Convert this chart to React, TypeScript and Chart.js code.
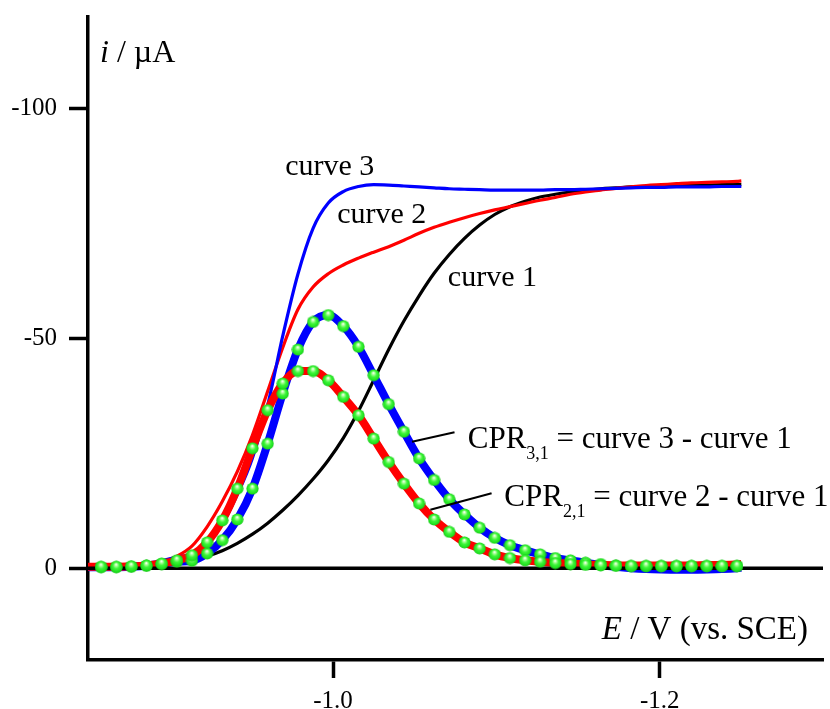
import { useEffect, useRef } from "react";
import { Chart, registerables } from "chart.js";

Chart.register(...registerables);

const SERIF = "'Liberation Serif', 'Times New Roman', serif";

// Potentials (V vs. SCE) of the sampled points
const E_DOT = [
  -0.858, -0.8673, -0.8765, -0.8858, -0.8951, -0.9044, -0.9136, -0.9229, -0.9322, -0.9414,
  -0.9507, -0.96, -0.9692, -0.9785, -0.9878, -0.9971, -1.0063, -1.0156, -1.0249, -1.0341,
  -1.0434, -1.0527, -1.0619, -1.0712, -1.0805, -1.0898, -1.099, -1.1083, -1.1176, -1.1268,
  -1.1361, -1.1454, -1.1546, -1.1639, -1.1732, -1.1825, -1.1917, -1.201, -1.2103, -1.2195,
  -1.2288, -1.2381, -1.2473,
];
const E_LINE = [-0.85, ...E_DOT, -1.25];

// Voltammetric currents (µA) on E_LINE
const CURVE1 = [
  -0.3, -0.3, -0.4, -0.5, -0.6, -0.8, -1.1, -1.7, -2.6, -3.8, -5.4,
  -7.4, -9.8, -12.6, -15.8, -19.4, -23.5, -28.3, -34.2, -40.9, -47.6,
  -53.8, -59.3, -64.2, -68.3, -71.8, -74.7, -77.0, -78.7, -79.9, -80.8,
  -81.4, -81.9, -82.3, -82.6, -82.8, -83.0, -83.1, -83.2, -83.3, -83.4,
  -83.4, -83.5, -83.5, -83.5,
];
const CURVE2 = [
  -0.3, -0.3, -0.4, -0.5, -0.8, -1.3, -2.6, -4.8, -9.0, -14.5, -21.0,
  -29.0, -38.5, -48.0, -56.3, -61.2, -64.1, -66.0, -67.5, -68.8, -70.0,
  -71.4, -72.9, -74.2, -75.3, -76.3, -77.2, -78.0, -78.7, -79.4, -80.1,
  -80.7, -81.4, -81.9, -82.3, -82.7, -83.0, -83.3, -83.5, -83.7, -83.9,
  -84.0, -84.1, -84.2, -84.3,
];
const CURVE3 = [
  -0.4, -0.5, -0.6, -0.8, -1.1, -1.6, -2.4, -3.1, -5.5, -9.6, -16.0,
  -24.0, -35.5, -50.5, -64.0, -74.0, -79.5, -82.0, -83.1, -83.5, -83.4,
  -83.2, -83.0, -82.8, -82.6, -82.5, -82.4, -82.3, -82.3, -82.3, -82.3,
  -82.4, -82.4, -82.5, -82.6, -82.7, -82.8, -82.9, -82.9, -83.0, -83.0,
  -83.0, -83.1, -83.1, -83.1,
];

// Difference curves (µA) on E_LINE
const CPR31_LINE = [
  -0.2, -0.2, -0.2, -0.3, -0.5, -0.9, -1.4, -1.6, -3.2, -6.1, -10.6,
  -17.3, -27.1, -38.0, -47.6, -53.6, -55.1, -52.7, -48.2, -42.0, -35.7,
  -29.7, -23.9, -19.2, -15.0, -11.7, -8.8, -6.6, -5.0, -3.9, -3.0,
  -2.2, -1.7, -1.2, -0.7, -0.3, 0.0, 0.2, 0.3, 0.35, 0.35,
  0.3, 0.2, 0.0, -0.1,
];
const CPR21_LINE = [
  -0.3, -0.3, -0.3, -0.4, -0.6, -1.0, -1.7, -2.8, -5.6, -10.4, -17.3,
  -26.1, -34.4, -40.2, -42.9, -42.9, -40.9, -37.3, -33.3, -28.2, -23.1,
  -18.4, -14.1, -10.6, -7.9, -5.6, -4.3, -3.0, -2.2, -1.7, -1.4,
  -1.1, -1.0, -0.8, -0.7, -0.6, -0.6, -0.6, -0.6, -0.6, -0.6,
  -0.7, -0.7, -0.8, -0.9,
];

// Fitted difference values (µA) on E_DOT
const CPR31_FIT = [
  -0.2, -0.2, -0.3, -0.5, -0.9, -1.4, -1.6, -3.2, -6.1, -10.6,
  -17.3, -27.1, -38.0, -47.6, -53.6, -55.1, -52.7, -48.2, -42.0, -35.7,
  -29.7, -23.9, -19.2, -15.0, -11.7, -8.8, -6.6, -5.0, -3.9, -3.0,
  -2.2, -1.7, -1.2, -0.9, -0.6, -0.4, -0.4, -0.4, -0.4, -0.4,
  -0.4, -0.4, -0.4,
];
const CPR21_FIT = [
  -0.3, -0.3, -0.4, -0.6, -1.0, -1.7, -2.8, -5.6, -10.4, -17.3,
  -26.1, -34.4, -40.2, -42.9, -42.9, -40.9, -37.3, -33.3, -28.2, -23.1,
  -18.4, -14.1, -10.6, -7.9, -5.6, -4.3, -3.0, -2.2, -1.7, -1.4,
  -1.1, -0.9, -0.7, -0.6, -0.5, -0.5, -0.5, -0.5, -0.5, -0.5,
  -0.5, -0.5, -0.5,
];

const X_TICKS = [-1.0, -1.2];
const Y_TICKS = [-100, -50, 0];
const E_MIN = -1.3;
const E_MAX = -0.85;
const I_MIN = -120;
const I_MAX = 20;

// Curve names, anchored at (E, i)
const CURVE_LABELS = [
  { text: "curve 3", E: -0.9707, i: -85.6 },
  { text: "curve 2", E: -1.0026, i: -75.1 },
  { text: "curve 1", E: -1.0703, i: -61.4 },
];
const CPR_LABELS = [
  { sub: "3,1", rest: " = curve 3 - curve 1", E: -1.0825, i: -26.1, from: [-1.0484, -27.5], to: [-1.0744, -29.6] },
  { sub: "2,1", rest: " = curve 2 - curve 1", E: -1.1049, i: -13.5, from: [-1.0596, -12.7], to: [-1.0971, -16.3] },
];

const pts = (xs: number[], ys: number[]) => xs.map((x, j) => ({ x, y: ys[j] }));

// Shaded green sphere used as the marker of the fitted points
function makeSphere(): HTMLCanvasElement {
  const c = document.createElement("canvas");
  c.width = 13;
  c.height = 13;
  const g = c.getContext("2d")!;
  const grad = g.createRadialGradient(6.3, 4.0, 0.2, 6.5, 6.5, 6.2);
  grad.addColorStop(0, "#ffffff");
  grad.addColorStop(0.22, "#a6ff95");
  grad.addColorStop(0.5, "#3ef53a");
  grad.addColorStop(0.85, "#1fe01f");
  grad.addColorStop(1, "#17bf17");
  g.fillStyle = grad;
  g.beginPath();
  g.arc(6.5, 6.5, 6.1, 0, Math.PI * 2);
  g.fill();
  return c;
}

const annotations = {
  id: "annotations",
  afterDraw(chart: any) {
    const { ctx, chartArea } = chart;
    const x = chart.scales.x;
    const y = chart.scales.y;
    ctx.save();
    ctx.fillStyle = "#000";
    ctx.strokeStyle = "#000";
    ctx.textAlign = "left";
    ctx.textBaseline = "alphabetic";

    ctx.font = `30px ${SERIF}`;
    for (const l of CURVE_LABELS) {
      ctx.fillText(l.text, x.getPixelForValue(l.E), y.getPixelForValue(l.i));
    }

    for (const l of CPR_LABELS) {
      const px = x.getPixelForValue(l.E);
      const py = y.getPixelForValue(l.i);
      ctx.font = `31px ${SERIF}`;
      ctx.fillText("CPR", px, py);
      let w = ctx.measureText("CPR").width;
      ctx.font = `18px ${SERIF}`;
      ctx.fillText(l.sub, px + w, py + 11);
      w += ctx.measureText(l.sub).width;
      ctx.font = `31px ${SERIF}`;
      ctx.fillText(l.rest, px + w, py);
      ctx.lineWidth = 2;
      ctx.beginPath();
      ctx.moveTo(x.getPixelForValue(l.from[0]), y.getPixelForValue(l.from[1]));
      ctx.lineTo(x.getPixelForValue(l.to[0]), y.getPixelForValue(l.to[1]));
      ctx.stroke();
    }

    // y-axis title: i / µA
    let tx = chartArea.left + 12;
    const ty = chartArea.top + 45;
    ctx.font = `italic 32px ${SERIF}`;
    ctx.fillText("i", tx, ty);
    tx += ctx.measureText("i").width;
    ctx.font = `32px ${SERIF}`;
    ctx.fillText(" / \u00B5A", tx, ty);

    // x-axis title: E / V (vs. SCE)
    ctx.font = `italic 33px ${SERIF}`;
    const wE = ctx.measureText("E").width;
    ctx.font = `33px ${SERIF}`;
    const rest = " / V (vs. SCE)";
    const wR = ctx.measureText(rest).width;
    const bx = chartArea.right - 15 - wE - wR;
    const by = chartArea.bottom - 21;
    ctx.font = `italic 33px ${SERIF}`;
    ctx.fillText("E", bx, by);
    ctx.font = `33px ${SERIF}`;
    ctx.fillText(rest, bx + wE, by);

    ctx.restore();
  },
};

export default function App() {
  const ref = useRef<HTMLCanvasElement | null>(null);

  useEffect(() => {
    if (!ref.current) return;
    const sphere = makeSphere();
    const thin = (data: number[], color: string, order: number) => ({
      data: pts(E_LINE, data),
      borderColor: color,
      borderWidth: 3.2,
      pointRadius: 0,
      cubicInterpolationMode: "monotone" as const,
      fill: false,
      order,
    });
    const chart = new Chart(ref.current, {
      type: "line",
      data: {
        datasets: [
          thin(CURVE1, "#000000", 9),
          thin(CURVE2, "#ff0000", 8),
          thin(CURVE3, "#0000ff", 7),
          { ...thin(CPR31_LINE, "#0000ff", 6), borderWidth: 8 },
          { ...thin(CPR21_LINE, "#ff0000", 5), borderWidth: 8 },
          {
            data: [{ x: E_MAX, y: 0 }, { x: E_MIN, y: 0 }],
            borderColor: "#000000",
            borderWidth: 3.5,
            pointRadius: 0,
            order: 4,
          },
          {
            data: pts(E_DOT, CPR31_FIT),
            showLine: false,
            pointStyle: sphere,
            pointRadius: 6,
            order: 3,
          },
          {
            data: pts(E_DOT, CPR21_FIT),
            showLine: false,
            pointStyle: sphere,
            pointRadius: 6,
            order: 2,
          },
        ] as any,
      },
      options: {
        animation: false,
        responsive: false,
        devicePixelRatio: 1,
        events: [],
        layout: { padding: { top: 17, right: 4, left: 0, bottom: 0 } },
        plugins: { legend: { display: false }, tooltip: { enabled: false } },
        scales: {
          x: {
            type: "linear",
            min: E_MIN,
            max: E_MAX,
            reverse: true,
            afterBuildTicks: (s: any) => {
              s.ticks = X_TICKS.map((v) => ({ value: v }));
            },
            afterFit: (s: any) => {
              s.height = 49;
              s.paddingLeft = 0;
              s.paddingRight = 0;
            },
            ticks: {
              color: "#000",
              font: { family: SERIF, size: 25 },
              padding: 8,
              maxRotation: 0,
              autoSkip: false,
              callback: (v: any) => Number(v).toFixed(1),
            },
            grid: {
              drawOnChartArea: false,
              drawTicks: true,
              tickLength: 18,
              tickWidth: 3.5,
              tickColor: "#000",
            },
            border: { display: true, color: "#000", width: 3.5 },
          },
          y: {
            type: "linear",
            min: I_MIN,
            max: I_MAX,
            reverse: true,
            afterBuildTicks: (s: any) => {
              s.ticks = Y_TICKS.map((v) => ({ value: v }));
            },
            afterFit: (s: any) => {
              s.width = 88;
              s.paddingTop = 0;
              s.paddingBottom = 0;
            },
            ticks: {
              color: "#000",
              font: { family: SERIF, size: 25 },
              padding: 12,
              autoSkip: false,
              callback: (v: any) => String(v),
            },
            grid: {
              drawOnChartArea: false,
              drawTicks: true,
              tickLength: 19,
              tickWidth: 3.5,
              tickColor: "#000",
            },
            border: { display: true, color: "#000", width: 3.5 },
          },
        },
      },
      plugins: [annotations],
    });
    return () => chart.destroy();
  }, []);

  return (
    <div style={{ position: "fixed", left: 0, top: 0, width: 830, height: 709, background: "#fff" }}>
      <canvas ref={ref} width={830} height={709} style={{ display: "block" }} />
    </div>
  );
}
